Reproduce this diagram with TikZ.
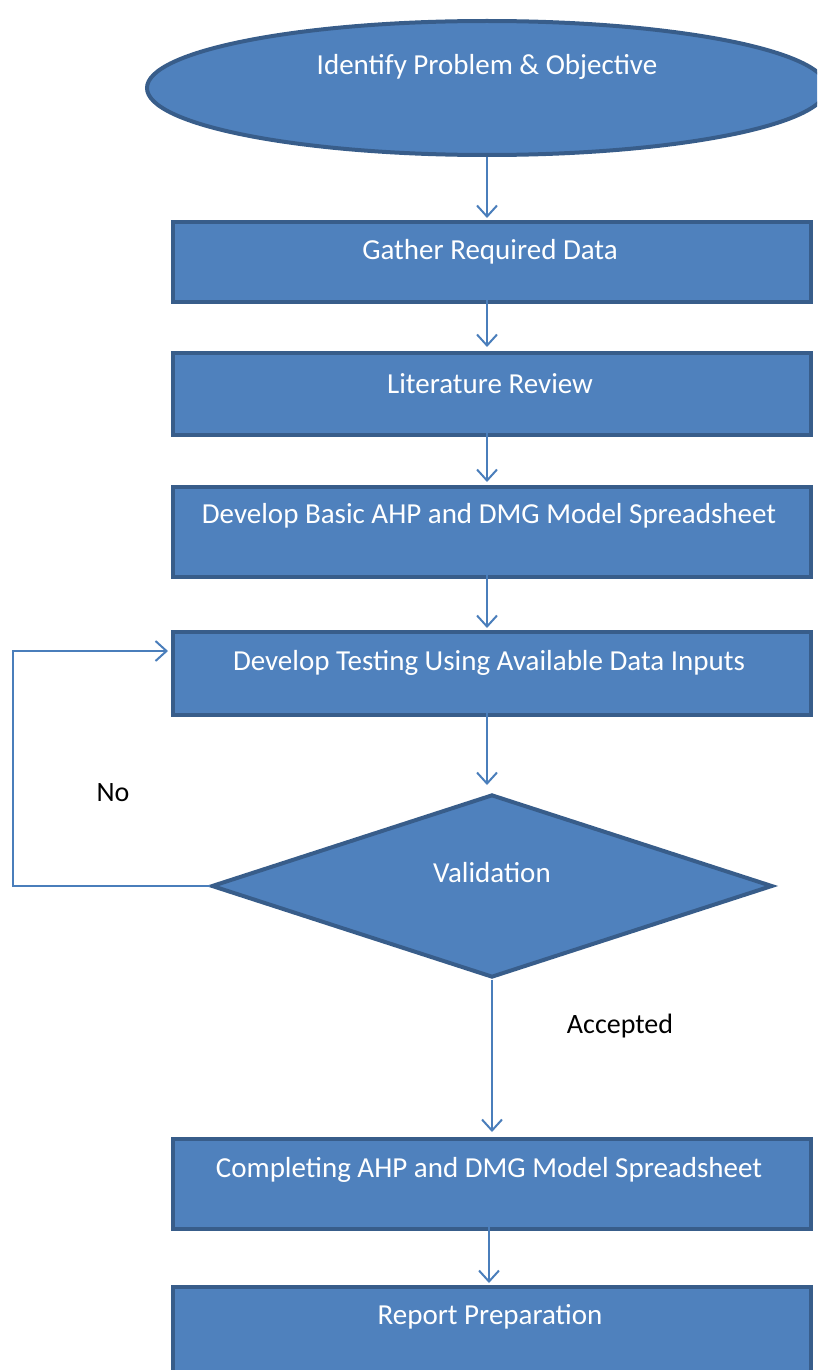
\documentclass[tikz,border=0pt]{standalone}
\usepackage{fontspec}
\setmainfont{Carlito}
\usetikzlibrary{shapes.geometric,arrows.meta}
\definecolor{fillblue}{HTML}{4F81BD}
\definecolor{edgeblue}{HTML}{385D8A}
\definecolor{linkblue}{HTML}{4A7EBB}
\begin{document}
\begin{tikzpicture}[x=1pt,y=-1pt,
  stepbox/.style={draw=edgeblue,fill=fillblue,line width=4pt,minimum width=638,minimum height=82,anchor=north west,inner sep=0},
  steptext/.style={text=white,font=\fontsize{29}{33}\selectfont,inner sep=0},
  plain/.style={text=black,font=\fontsize{28}{32}\selectfont,inner sep=0},
  link/.style={draw=linkblue,line width=2pt,-{Straight Barb[length=11pt,width=20pt,line width=2pt]}}
]
\useasboundingbox (0,0) rectangle (817,1370);
\clip (0,0) rectangle (817,1370);

% start ellipse
\node[ellipse,draw=edgeblue,fill=fillblue,line width=4pt,minimum width=680,minimum height=134,inner sep=0] (start) at (487,88) {};
\node[steptext] at (487,67) {Identify Problem \& Objective};

% process boxes
\node[stepbox,minimum height=80] (gather) at (171,220) {};
\node[steptext] at (490,252) {Gather Required Data};
\node[stepbox] (lit) at (171,351) {};
\node[steptext] at (490,384) {Literature Review};
\node[stepbox,minimum height=90] (basic) at (171,485) {};
\node[steptext] at (489,516) {Develop Basic AHP and DMG Model Spreadsheet};
\node[stepbox,minimum height=83] (test) at (171,630) {};
\node[steptext] at (489,663) {Develop Testing Using Available Data Inputs};

% decision
\node[diamond,draw=edgeblue,fill=fillblue,line width=4pt,aspect=3.07,minimum width=561,minimum height=183,inner sep=0] (valid) at (492,886) {};
\node[steptext] at (492,873) {Validation};

\node[stepbox,minimum height=90] (complete) at (171,1137) {};
\node[steptext] at (489,1170) {Completing AHP and DMG Model Spreadsheet};
\node[stepbox,minimum height=95] (report) at (171,1285) {};
\node[steptext] at (490,1317) {Report Preparation};

% labels
\node[plain] (nolbl) at (113,793) {No};
\node[plain] (acclbl) at (620,1026) {Accepted};

% connectors
\coordinate (c1) at (487,218);
\coordinate (c2) at (487,347);
\coordinate (c3) at (487,482);
\coordinate (c4) at (487,628);
\coordinate (c5) at (487,785);
\coordinate (c6) at (492,1132);
\coordinate (c7) at (489,1283);
\draw[link] (start.south) -- (c1);
\draw[link] (487,300) -- (c2);
\draw[link] (487,433) -- (c3);
\draw[link] (487,575) -- (c4);
\draw[link] (487,713) -- (c5);
\draw[link] (valid.south) -- (c6);
\draw[link] (489,1227) -- (c7);
\coordinate (loopa) at (13,886);
\coordinate (loopb) at (13,651);
\coordinate (loopc) at (168,651);
\draw[link] (valid.west) -- (loopa) -- (loopb) -- (loopc);
\end{tikzpicture}
\end{document}
